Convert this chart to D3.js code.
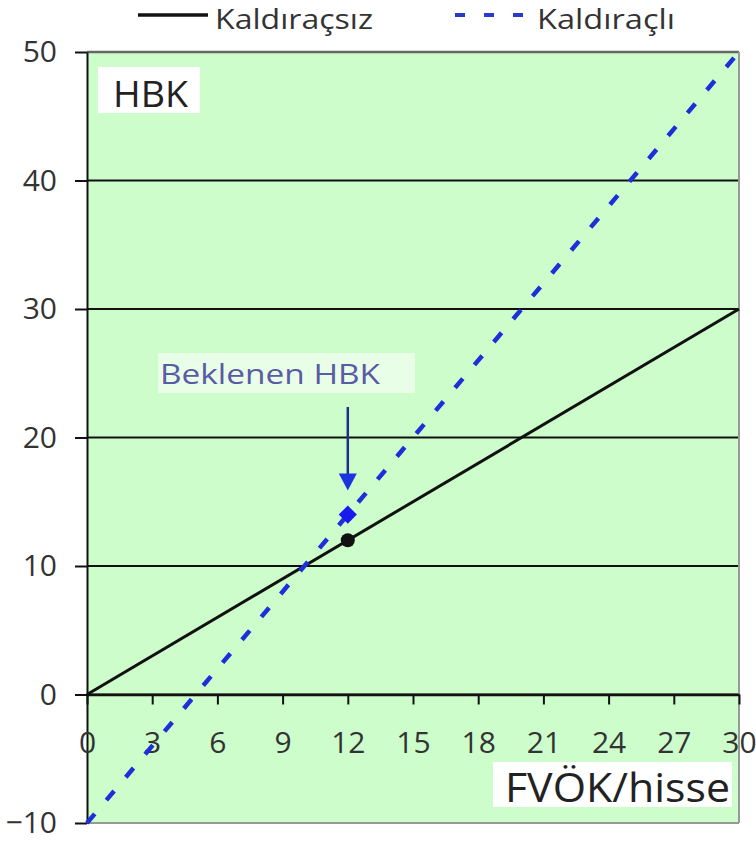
<!DOCTYPE html>
<html><head><meta charset="utf-8">
<script src="https://cdn.jsdelivr.net/npm/d3@7"></script>
<style>
html,body{margin:0;padding:0;background:#fff;}
svg{display:block;}
text{font-family:"Open Sans",sans-serif;}
</style></head>
<body>
<svg id="chart" width="756" height="843"></svg>
<script>
// ---- data ----
const xTicks = [0,3,6,9,12,15,18,21,24,27,30];
const yTicks = [-10,0,10,20,30,40,50];
const seriesNames = ["Kaldıraçsız","Kaldıraçlı"];
const unleveredX = [0,30];
const unleveredY = [0,30];
const leveredX = [0,30];
const leveredY = [-10,50];
const expectedX = [12];
const expectedUnlevered = [12];
const expectedLevered = [14];
const yTitle = "HBK";
const xTitle = "FVÖK/hisse";
const noteText = "Beklenen HBK";

const svg = d3.select("#chart");
const x = d3.scaleLinear().domain([0,30]).range([87,739]);
const y = d3.scaleLinear().domain([-10,50]).range([823,52]);

// background
svg.append("rect").attr("x",x(0)).attr("y",y(50)).attr("width",x(30)-x(0)).attr("height",y(-10)-y(50)).attr("fill","#ccfdcb");

// gridlines
svg.append("g").selectAll("line").data(yTicks.filter(d=>d>-10&&d<50)).join("line")
  .attr("x1",x(0)).attr("x2",x(30)).attr("y1",d=>y(d)).attr("y2",d=>y(d))
  .attr("stroke","#111").attr("stroke-width",2);
// borders
svg.append("line").attr("x1",x(0)).attr("x2",x(30)).attr("y1",y(50)).attr("y2",y(50)).attr("stroke","#666").attr("stroke-width",2.5);
svg.append("line").attr("x1",x(0)).attr("x2",x(30)).attr("y1",y(-10)).attr("y2",y(-10)).attr("stroke","#999").attr("stroke-width",2);
svg.append("line").attr("x1",x(30)).attr("x2",x(30)).attr("y1",y(50)).attr("y2",y(-10)).attr("stroke","#999").attr("stroke-width",2);

// y axis
const yAxis = svg.append("g").attr("transform",`translate(${x(0)},0)`)
  .call(d3.axisLeft(y).tickValues(yTicks).tickSize(12).tickPadding(18).tickSizeOuter(0));
yAxis.select(".domain").attr("stroke","#111").attr("stroke-width",2);
yAxis.selectAll(".tick line").attr("stroke","#111").attr("stroke-width",2);
yAxis.selectAll("text").attr("font-size",30).attr("fill","#333").attr("font-family","Open Sans");

// x axis at y=0
const xAxis = svg.append("g").attr("transform",`translate(0,${y(0)})`)
  .call(d3.axisBottom(x).tickValues(xTicks).tickSize(10).tickPadding(27).tickSizeOuter(0));
xAxis.select(".domain").attr("stroke","#111").attr("stroke-width",2.5);
xAxis.selectAll(".tick line").attr("stroke","#111").attr("stroke-width",2);
xAxis.selectAll("text").attr("font-size",30).attr("fill","#333").attr("font-family","Open Sans");

// series
const line = d3.line().x(d=>x(d[0])).y(d=>y(d[1]));
svg.append("path").datum(unleveredX.map((v,i)=>[v,unleveredY[i]]))
  .attr("d",line).attr("fill","none").attr("stroke","#111").attr("stroke-width",3);
svg.append("path").datum(leveredX.map((v,i)=>[v,leveredY[i]]))
  .attr("d",line).attr("fill","none").attr("stroke","#1d2fd8").attr("stroke-width",4.5)
  .attr("stroke-dasharray","12 18");

// markers
svg.append("g").selectAll("circle").data(expectedX.map((v,i)=>[v,expectedUnlevered[i]])).join("circle")
  .attr("cx",d=>x(d[0])).attr("cy",d=>y(d[1])).attr("r",7).attr("fill","#111");
svg.append("g").selectAll("path").data(expectedX.map((v,i)=>[v,expectedLevered[i]])).join("path")
  .attr("d",d3.symbol().type(d3.symbolDiamond2).size(210))
  .attr("transform",d=>`translate(${x(d[0])},${y(d[1])})`).attr("fill","#1a1aee");

// annotation
const ax = x(expectedX[0]);
const ayEnd = y(expectedLevered[0]) - 24;
svg.append("line").attr("x1",ax).attr("x2",ax).attr("y1",407).attr("y2",ayEnd-14)
  .attr("stroke","#1d2f88").attr("stroke-width",2.5);
svg.append("path").attr("d",`M${ax-9},${ayEnd-17}L${ax+9},${ayEnd-17}L${ax},${ayEnd}Z`).attr("fill","#1a35e0");
svg.append("rect").attr("x",158).attr("y",353).attr("width",257).attr("height",40).attr("fill","#fff").attr("fill-opacity",0.55);
svg.append("text").attr("x",160).attr("y",384).attr("font-size",28).attr("fill","#5a5aa5")
  .attr("textLength",220).attr("lengthAdjust","spacingAndGlyphs").text(noteText);

// axis title boxes
svg.append("rect").attr("x",98).attr("y",67).attr("width",102).attr("height",46).attr("fill","#fff");
svg.append("text").attr("x",113).attr("y",107).attr("font-size",37).attr("fill","#222")
  .attr("textLength",75).attr("lengthAdjust","spacingAndGlyphs").text(yTitle);
svg.append("rect").attr("x",493).attr("y",762).attr("width",239).attr("height",45).attr("fill","#fff");
svg.append("text").attr("x",505).attr("y",802).attr("font-size",40).attr("fill","#222")
  .attr("textLength",225).attr("lengthAdjust","spacingAndGlyphs").text(xTitle);

// legend
const lg = svg.append("g");
lg.append("line").attr("x1",138).attr("x2",208).attr("y1",15).attr("y2",15).attr("stroke","#111").attr("stroke-width",3.5);
lg.append("text").attr("x",215).attr("y",29).attr("font-size",27).attr("fill","#333")
  .attr("textLength",158).attr("lengthAdjust","spacingAndGlyphs").text(seriesNames[0]);
lg.append("line").attr("x1",455).attr("x2",523).attr("y1",15).attr("y2",15).attr("stroke","#2a3ac8").attr("stroke-width",4)
  .attr("stroke-dasharray","10 19");
lg.append("text").attr("x",537).attr("y",29).attr("font-size",27).attr("fill","#333")
  .attr("textLength",138).attr("lengthAdjust","spacingAndGlyphs").text(seriesNames[1]);
</script>
</body></html>
